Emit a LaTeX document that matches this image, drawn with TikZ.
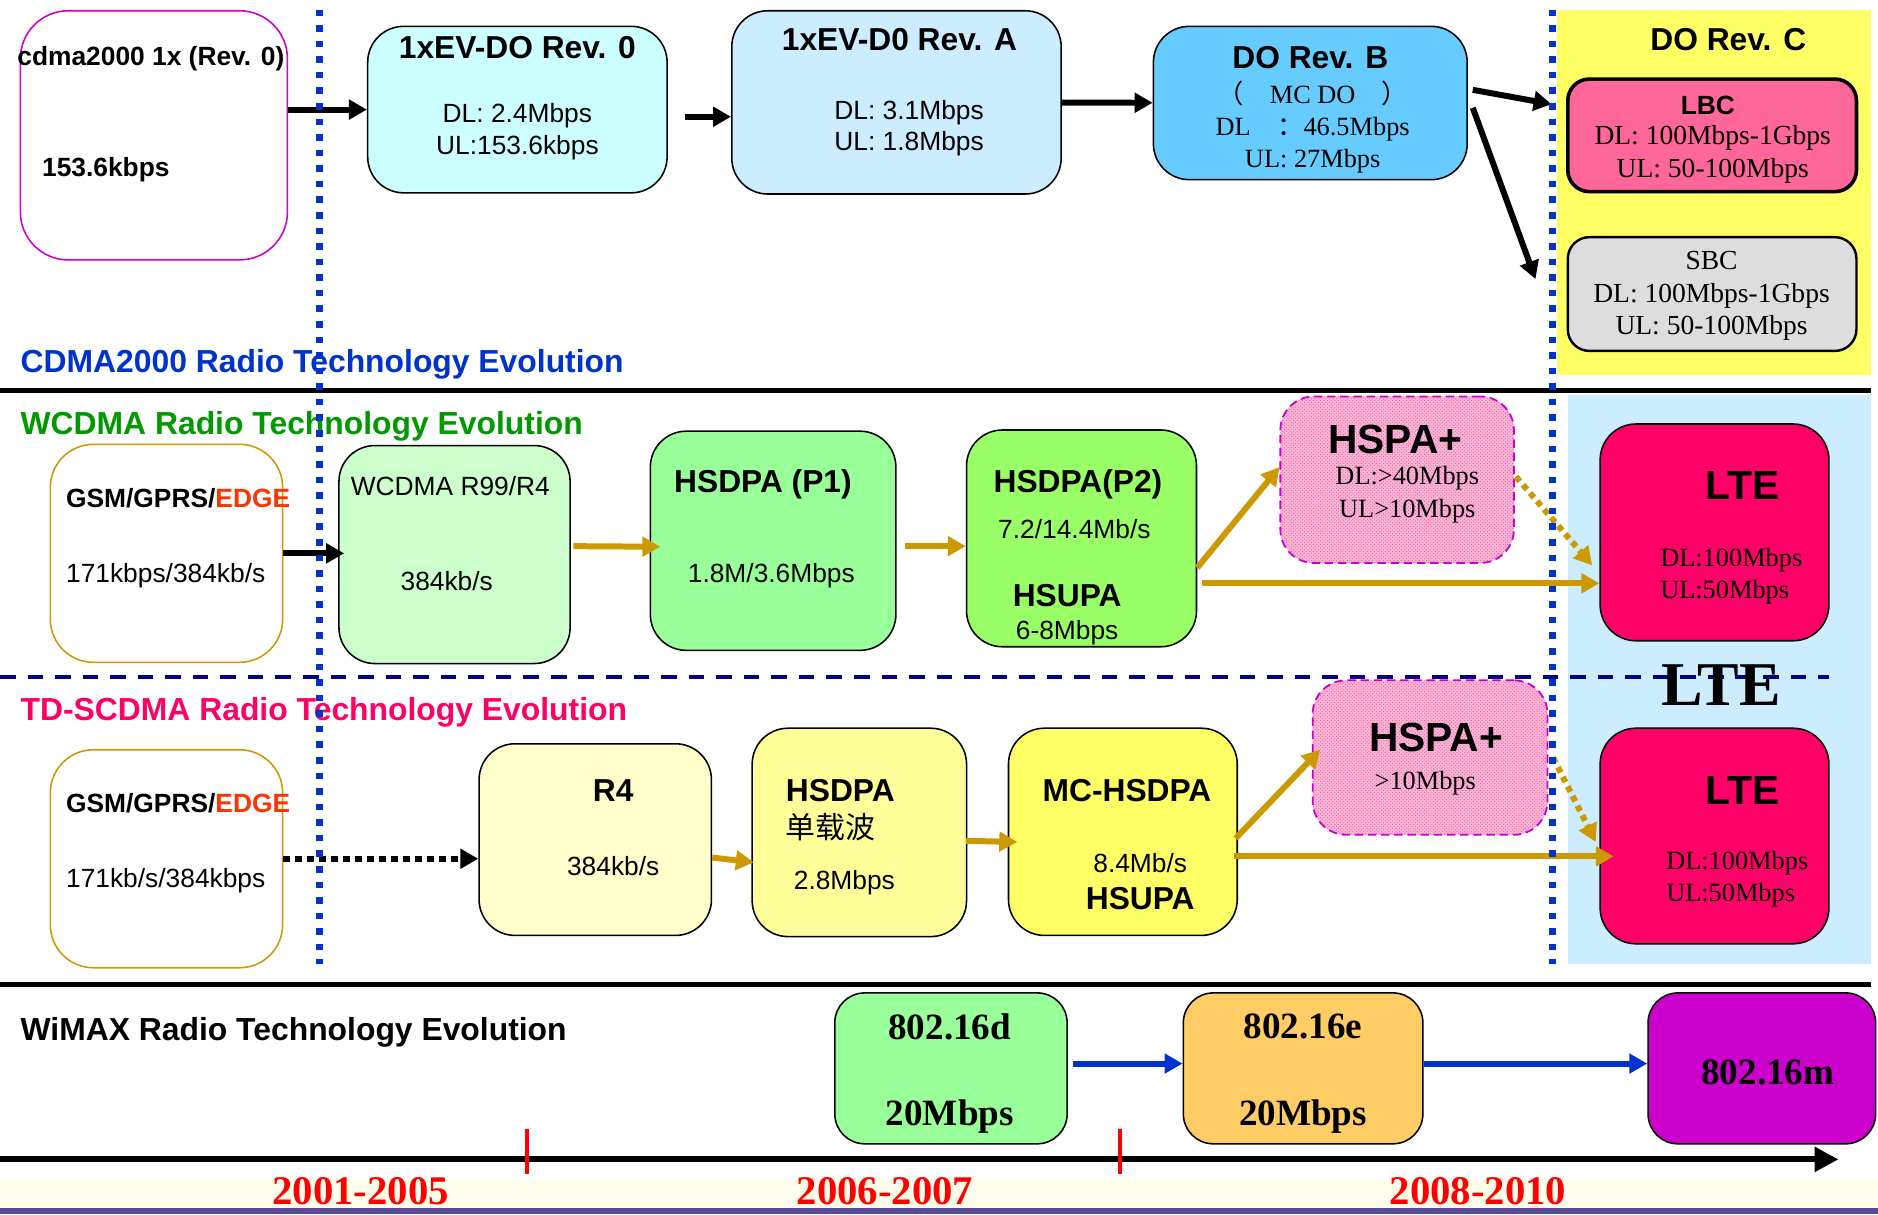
\documentclass[tikz,border=0pt]{standalone}
\usepackage{fontspec}
\setmainfont{Liberation Sans}
\newfontfamily\tnr{Liberation Serif}
\newfontfamily\cjk{Noto Sans CJK SC}
\usetikzlibrary{arrows.meta, patterns, positioning}

\definecolor{cdmablue}{HTML}{0033CC}
\definecolor{wgreen}{HTML}{009900}
\definecolor{tdpink}{HTML}{FF0066}
\definecolor{edgered}{HTML}{FF3300}
\definecolor{gold}{HTML}{CC9900}
\definecolor{magentab}{HTML}{CC00CC}
\definecolor{cyanbox}{HTML}{CCFFFF}
\definecolor{skybox}{HTML}{CCECFF}
\definecolor{blueb}{HTML}{66CCFF}
\definecolor{yellowc}{HTML}{FFFF66}
\definecolor{lbcpink}{HTML}{FF6699}
\definecolor{sbcgrey}{HTML}{DDDDDD}
\definecolor{palegreen}{HTML}{CCFFCC}
\definecolor{lightgreen}{HTML}{99FF99}
\definecolor{limegreen}{HTML}{99FF66}
\definecolor{paleyellow}{HTML}{FFFFCC}
\definecolor{midyellow}{HTML}{FFFF99}
\definecolor{orangebox}{HTML}{FFCC66}
\definecolor{hspapink}{HTML}{F7B8D8}
\definecolor{navy}{HTML}{000080}
\definecolor{band}{HTML}{5A4A9A}

\begin{document}
\begin{tikzpicture}[x=1pt, y=-1pt]
        \tikzstyle{tech} = [rectangle, rounded corners=30pt, draw=black, line width=1.3pt, inner sep=0pt]
        \tikzstyle{plus} = [rectangle, rounded corners=28pt, draw=magentab, line width=1.5pt, dash pattern=on 7pt off 4pt, preaction={fill=hspapink}, pattern=crosshatch dots, pattern color=tdpink!70, inner sep=0pt]
        \tikzstyle{head} = [font=\fontsize{26.5}{31}\selectfont\bfseries, inner sep=0pt]
        \tikzstyle{rate} = [font=\fontsize{22}{26.5}\selectfont, align=center, inner sep=0pt]
        \tikzstyle{trate} = [font=\tnr\fontsize{22}{27}\selectfont, align=center, inner sep=0pt]
        \tikzstyle{big} = [font=\fontsize{34}{40}\selectfont\bfseries, inner sep=0pt]
        \tikzstyle{wimax} = [font=\tnr\fontsize{31}{36}\selectfont\bfseries, inner sep=0pt]
        \tikzstyle{era} = [font=\tnr\fontsize{34}{40}\selectfont\bfseries, text=red, anchor=base, inner sep=0pt]
        \tikzstyle{section} = [font=\fontsize{26.6}{32}\selectfont\bfseries, anchor=west, inner sep=0pt]
        \tikzstyle{evo} = [line width=5pt, -{Triangle[length=15pt,width=16pt]}]
        \tikzstyle{goldevo} = [evo, draw=gold, color=gold]
        \tikzstyle{golddots} = [goldevo, line width=5pt, dash pattern=on 5pt off 4pt]
        \tikzstyle{divider} = [draw=cdmablue, line width=6pt, dash pattern=on 5.5pt off 7.5pt]

        \useasboundingbox (0,0) rectangle (1568,1014);
        \fill[white] (0,0) rectangle (1568,1014);
        \fill[yellow!8] (0,984) rectangle (1568,1009);
        \fill[band] (0,1009) rectangle (1568,1014);

        % backdrops for Rev. C and LTE
        \fill[yellowc] (1300,8) rectangle (1562,313);
        \fill[skybox] (1309,330) rectangle (1562,805);

        % rules between the rows
        \draw[line width=4pt] (0,326) -- (1562,326);
        \draw[line width=4pt] (0,822) -- (1562,822);
        \draw[navy, line width=3.3pt, dash pattern=on 13pt off 10pt] (0,565) -- (1527,565);

        %CDMA2000 row
        \node[tech, draw=magentab, rounded corners=40pt, minimum width=223, minimum height=208] (cdma) at (128.5,113) {};
        \node[head, font=\fontsize{22}{26}\selectfont\bfseries] (cdmat) at (126,49) {cdma2000 1x (Rev. 0)};
        \node[head, font=\fontsize{22}{26}\selectfont\bfseries, anchor=west] (cdmar) at (35,142) {153.6kbps};

        \node[tech, fill=cyanbox, minimum width=250, minimum height=139] (ev0) at (432,91.5) {};
        \node[head] (ev0t) at (432,40) {1xEV-DO Rev. 0};
        \node[rate] (ev0r) at (432,110) {DL: 2.4Mbps\\UL:153.6kbps};

        \node[tech, fill=skybox, minimum width=275, minimum height=153] (evA) at (748.5,85.5) {};
        \node[head] (evAt) at (751,33) {1xEV-D0 Rev. A};
        \node[rate] (evAr) at (759,107) {DL: 3.1Mbps\\UL: 1.8Mbps};

        \node[tech, fill=blueb, minimum width=262, minimum height=128] (revB) at (1094,86) {};
        \node[head] (revBt) at (1094,48) {DO Rev. B};
        \node[trate] (revBr) at (1096,106) {{\cjk （}\quad MC DO\quad{\cjk ）}\\DL\quad{\cjk ：}46.5Mbps\\UL: 27Mbps};

        \node[head] (revCt) at (1443,33) {DO Rev. C};
        \node[tech, fill=lbcpink, rounded corners=18pt, line width=3pt, minimum width=241, minimum height=94] (lbc) at (1429.5,113) {};
        \node[head, font=\fontsize{22}{26}\selectfont\bfseries] (lbct) at (1426,88) {LBC};
        \node[trate, font=\tnr\fontsize{23}{27}\selectfont] (lbcr) at (1430,129) {DL: 100Mbps-1Gbps\\UL: 50-100Mbps};
        \node[tech, fill=sbcgrey, rounded corners=18pt, line width=2pt, minimum width=241, minimum height=95] (sbc) at (1429.5,245.5) {};
        \node[trate, font=\tnr\fontsize{23}{27}\selectfont] (sbcr) at (1429,247) {SBC\\DL: 100Mbps-1Gbps\\UL: 50-100Mbps};

        \node[section, text=cdmablue] (cdmasec) at (17,304) {CDMA2000 Radio Technology Evolution};

        %WCDMA row
        \node[section, text=wgreen] (wcdmasec) at (17,356) {WCDMA Radio Technology Evolution};
        \node[tech, draw=gold, rounded corners=36pt, minimum width=194, minimum height=182] (gsm1) at (139,462) {};
        \node[head, font=\fontsize{22}{26}\selectfont\bfseries, anchor=west] (gsm1t) at (55,416) {GSM/GPRS/\textcolor{edgered}{EDGE}};
        \node[rate, anchor=west] (gsm1r) at (55,481) {171kbps/384kb/s};

        \node[tech, fill=palegreen, minimum width=193, minimum height=182] (r99) at (379.5,463) {};
        \node[rate] (r99t) at (376,406) {WCDMA R99/R4};
        \node[rate] (r99r) at (373,485) {384kb/s};

        \node[tech, fill=lightgreen, minimum width=205, minimum height=183] (p1) at (645.5,451.5) {};
        \node[head] (p1t) at (637,404) {HSDPA (P1)};
        \node[rate] (p1r) at (644,481) {1.8M/3.6Mbps};

        \node[tech, fill=limegreen, minimum width=192, minimum height=181] (p2) at (903,449.5) {};
        \node[head] (p2t) at (900,404) {HSDPA(P2)};
        \node[rate] (p2r) at (897,442) {7.2/14.4Mb/s};
        \node[head] (p2u) at (891,497) {HSUPA};
        \node[rate] (p2ur) at (891,528) {6-8Mbps};

        \node[plus, minimum width=195, minimum height=139] (hspa1) at (1166.5,400.5) {};
        \node[big] (hspa1t) at (1165,367) {HSPA+};
        \node[trate] (hspa1r) at (1175,413) {DL:>40Mbps\\UL>10Mbps};

        \node[tech, fill=tdpink, minimum width=191, minimum height=181] (lte1) at (1431.5,444.5) {};
        \node[big] (lte1t) at (1455,405) {LTE};
        \node[trate, anchor=west, align=left] (lte1r) at (1386,481) {DL:100Mbps\\UL:50Mbps};

        \node[font=\tnr\fontsize{52}{58}\selectfont\bfseries, inner sep=0pt] (lteband) at (1437,572) {LTE};

        %TD-SCDMA row
        \node[section, text=tdpink] (tdsec) at (17,595) {TD-SCDMA Radio Technology Evolution};
        \node[tech, draw=gold, rounded corners=36pt, minimum width=194, minimum height=182] (gsm2) at (139,717) {};
        \node[head, font=\fontsize{22}{26}\selectfont\bfseries, anchor=west] (gsm2t) at (55,671) {GSM/GPRS/\textcolor{edgered}{EDGE}};
        \node[rate, anchor=west] (gsm2r) at (55,735) {171kb/s/384kbps};

        \node[tech, fill=paleyellow, minimum width=194, minimum height=160] (r4) at (497,701) {};
        \node[head] (r4t) at (512,660) {R4};
        \node[rate] (r4r) at (512,723) {384kb/s};

        \node[tech, fill=midyellow, minimum width=179, minimum height=174] (hsdpa) at (717.5,695) {};
        \node[head, anchor=west] (hsdpat) at (656,660) {HSDPA};
        \node[font=\cjk\fontsize{25}{30}\selectfont, anchor=west, inner sep=0pt] (hsdpac) at (656,691) {单载波};
        \node[rate] (hsdpar) at (705,737) {2.8Mbps};

        \node[tech, fill=yellowc, minimum width=191, minimum height=173] (mc) at (937.5,694.5) {};
        \node[head] (mct) at (941,660) {MC-HSDPA};
        \node[rate] (mcr) at (952,721) {8.4Mb/s};
        \node[head] (mcu) at (952,750) {HSUPA};

        \node[plus, minimum width=196, minimum height=129] (hspa2) at (1194,632.5) {};
        \node[big] (hspa2t) at (1199,616) {HSPA+};
        \node[trate] (hspa2r) at (1190,654) {>10Mbps};

        \node[tech, fill=tdpink, minimum width=191, minimum height=180] (lte2) at (1431.5,698) {};
        \node[big] (lte2t) at (1455,660) {LTE};
        \node[trate, anchor=west, align=left] (lte2r) at (1391,734) {DL:100Mbps\\UL:50Mbps};

        %WiMAX row
        \node[section, text=black] (wimaxsec) at (17,862) {WiMAX Radio Technology Evolution};
        \node[tech, fill=lightgreen, rounded corners=25pt, minimum width=194, minimum height=126] (wd) at (794,892) {};
        \node[wimax] (wdt) at (793,857) {802.16d};
        \node[wimax] (wdr) at (793,932) {20Mbps};
        \node[tech, fill=orangebox, rounded corners=25pt, minimum width=200, minimum height=126] (we) at (1088,892) {};
        \node[wimax] (wet) at (1088,857) {802.16e};
        \node[wimax] (wer) at (1088,932) {20Mbps};
        \node[tech, fill=magentab, rounded corners=25pt, minimum width=190, minimum height=126] (wm) at (1471,892) {};
        \node[wimax] (wmt) at (1476,895) {802.16m};

        %time line
        \coordinate (tstart) at (0,968);
        \coordinate (tend) at (1535,968);
        \draw[line width=5pt, -{Triangle[length=20pt,width=20pt]}] (tstart) -- (tend);
        \draw[red, line width=3pt] (440,943) -- (440,980);
        \draw[red, line width=3pt] (935,943) -- (935,980);
        \node[era] (era1) at (301,1006) {2001-2005};
        \node[era] (era2) at (739,1006) {2006-2007};
        \node[era] (era3) at (1234,1006) {2008-2010};

        %CDMA2000 evolution
        \draw[evo] (cdma.east |- ev0.west) -- (ev0.west);
        \draw[evo] ([xshift=14pt,yshift=-6pt]ev0.east) -- ([yshift=-6pt]ev0.east -| evA.west);
        \draw[evo] (evA) -- (revB);
        \draw[evo] ([xshift=4pt,yshift=11pt]revB.east) -- ([xshift=-12pt,yshift=26pt]lbc.west);
        \draw[evo] ([xshift=4pt,yshift=-4pt]revB.east) -- ([xshift=-26pt,yshift=12.5pt]sbc.west);

        %WCDMA evolution
        \draw[evo] (gsm1.east) -- ([xshift=5pt]gsm1.east -| r99.west);
        \draw[goldevo] ([xshift=2pt,yshift=7pt]r99.east) -- ([xshift=9pt,yshift=-5pt]p1.west);
        \draw[goldevo] ([xshift=7pt,yshift=-4.5pt]p1.east) -- ([yshift=-6.5pt]p2.west);
        \draw[goldevo] ([yshift=-24.5pt]p2.east) -- ([yshift=10.5pt]hspa1.west);
        \draw[goldevo] ([xshift=4pt,yshift=-37.5pt]p2.east) -- ([yshift=-42.5pt]lte1.west);
        \draw[golddots] ([xshift=1pt,yshift=2.5pt]hspa1.east) -- ([xshift=-6pt,yshift=-27.5pt]lte1.west);

        %TD-SCDMA evolution
        \draw[evo, line width=5pt, dash pattern=on 5.5pt off 4.5pt] (gsm2.east) -- (gsm2.east -| r4.west);
        \draw[goldevo] ([yshift=-15pt]r4.east) -- ([xshift=2pt,yshift=-25pt]hsdpa.west);
        \draw[goldevo] ([xshift=-1pt,yshift=-7pt]hsdpa.east) -- ([xshift=8pt,yshift=-8.5pt]mc.west);
        \draw[goldevo] ([xshift=-2pt,yshift=-5.5pt]mc.east) -- ([xshift=7pt,yshift=6.5pt]hspa2.west);
        \draw[goldevo] ([xshift=-3pt,yshift=-20.5pt]mc.east) -- ([xshift=12pt,yshift=-17pt]lte2.west);
        \draw[golddots] ([xshift=4pt]hspa2.east) -- ([xshift=-3pt,yshift=-5pt]lte2.west);

        %WiMAX evolution
        \draw[evo, cdmablue] ([xshift=4pt,yshift=4pt]wd.east) -- ([yshift=4pt]we.west);
        \draw[evo, cdmablue] ([yshift=4pt]we.east) -- ([yshift=4pt]wm.west);

        % dividers of the periods
        \draw[divider] (267,8) -- (267,805);
        \draw[divider] (1296,8) -- (1296,805);
\end{tikzpicture}
\end{document}
